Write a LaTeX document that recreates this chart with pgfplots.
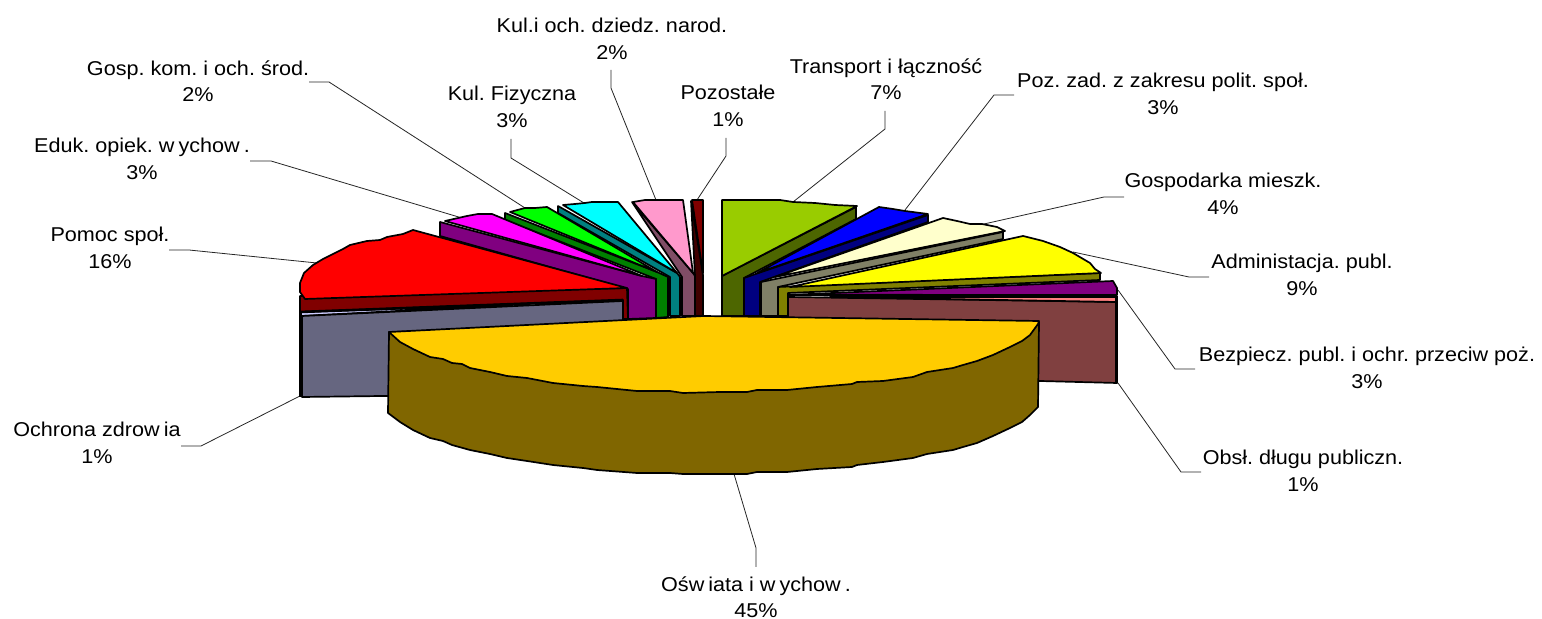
\documentclass[border=0pt]{standalone}
\usepackage{fontspec}
\setmainfont[FakeStretch=1.08]{Liberation Sans}
\usepackage{pgfplots}
\pgfplotsset{compat=1.18}
\definecolor{cDarkRed}{HTML}{800000}
\definecolor{cDarkRedW}{HTML}{400000}
\definecolor{cRed}{HTML}{FF0000}
\definecolor{cPink}{HTML}{FF99CC}
\definecolor{cPinkW}{HTML}{804D66}
\definecolor{cCyan}{HTML}{00FFFF}
\definecolor{cTeal}{HTML}{008080}
\definecolor{cGreen}{HTML}{00FF00}
\definecolor{cGreenW}{HTML}{008000}
\definecolor{cMagenta}{HTML}{FF00FF}
\definecolor{cPurple}{HTML}{800080}
\definecolor{cGrayW}{HTML}{666680}
\definecolor{cLav}{HTML}{CCCCFF}
\definecolor{cLime}{HTML}{99CC00}
\definecolor{cLimeW}{HTML}{4D6600}
\definecolor{cBlue}{HTML}{0000FF}
\definecolor{cNavy}{HTML}{000080}
\definecolor{cCream}{HTML}{FFFFCC}
\definecolor{cCreamW}{HTML}{808066}
\definecolor{cYellow}{HTML}{FFFF00}
\definecolor{cOlive}{HTML}{808000}
\definecolor{cSalmon}{HTML}{FF8080}
\definecolor{cBrown}{HTML}{804040}
\definecolor{cGold}{HTML}{FFCC00}
\definecolor{cGoldW}{HTML}{806600}
\frenchspacing
\tikzset{
  face/.style={draw=black, line width=0.85pt, line join=round},
  lead/.style={draw=black!85, line width=0.4pt},
  lab/.style={font=\fontsize{10}{13.25}\selectfont, align=center, inner sep=0pt, text=black},
}
\newcommand{\wk}{\kern2pt\relax}
\begin{document}
\begin{tikzpicture}
\useasboundingbox (0,0) rectangle (771pt,309.5pt);
\begin{axis}[
    width=771pt, height=309.5pt, scale only axis,
    xmin=0, xmax=1542, ymin=0, ymax=619, y dir=reverse,
    hide axis, clip=false,
]
% leader lines
\addplot[lead] coordinates {(309,82) (329,82) (525,208)};
\addplot[lead] coordinates {(250,161) (271,161) (462,218)};
\addplot[lead] coordinates {(169,250) (189,250) (317,263)};
\addplot[lead] coordinates {(511,139) (511,158) (584,203)};
\addplot[lead] coordinates {(611,70) (611,88) (656,200)};
\addplot[lead] coordinates {(726,138) (726,156) (697,200)};
\addplot[lead] coordinates {(885,111) (885,129) (793,202)};
\addplot[lead] coordinates {(1014,95) (994,95) (905,210)};
\addplot[lead] coordinates {(1124,197) (1104,197) (984,224)};
\addplot[lead] coordinates {(1209,277) (1189,277) (1073,252)};
\addplot[lead] coordinates {(1118,290) (1175,369) (1195,369)};
\addplot[lead] coordinates {(1118,383) (1181,472) (1201,472)};
\addplot[lead] coordinates {(181,446) (201,446) (300,396)};
\addplot[lead] coordinates {(734,474) (756,548) (756,567)};
% Pozostale
\addplot[face, fill=cDarkRedW] coordinates {(691,201) (703,275) (703,316) (695,316) (695,276)} --cycle;
\addplot[face, fill=cDarkRed] coordinates {(692,200) (703,200) (703,273)} --cycle;
% Kul.i och. dziedz. narod.
\addplot[face, fill=cPinkW] coordinates {(632,202) (693,273) (695,276) (695,316) (682,316) (682,277)} --cycle;
\addplot[face, fill=cPink] coordinates {(633,202) (645,200) (655,200) (683,200) (693,273)} --cycle;
% Kul. Fizyczna
\addplot[face, fill=cTeal] coordinates {(558,206) (677,273) (680,277) (680,316) (670,316) (670,277) (558,213)} --cycle;
\addplot[face, fill=cCyan] coordinates {(563,205) (575,204) (585,203) (592,202) (618,202) (677,273)} --cycle;
% Gosp. kom.
\addplot[face, fill=cGreenW] coordinates {(505,213) (657,272) (668,277) (668,317) (656,318) (656,279) (505,220)} --cycle;
\addplot[face, fill=cGreen] coordinates {(510,212) (525,208) (535,208) (547,207) (657,272)} --cycle;
% Eduk.
\addplot[face, fill=cPurple] coordinates {(440,222) (642,276) (656,279) (656,318) (628,319) (628,289) (440,236)} --cycle;
\addplot[face, fill=cMagenta] coordinates {(445,221) (467,216) (478,214) (492,214) (642,276)} --cycle;
% Pomoc spol.
\addplot[face, fill=cDarkRed] coordinates {(300,296) (627,288) (628,319) (623,319) (623,300) (300,312)} --cycle;
\addplot[face, fill=cRed] coordinates {(627,288) (305,299) (300,292) (300,283) (304,273) (313,265) (323,259) (343,249) (350,245) (367,241) (380,240) (387,237) (403,234) (413,230)} --cycle;
% Ochrona zdrowia
\addplot[face, fill=cLav] coordinates {(301,312) (513,305) (301,316)} --cycle;
\addplot[face, fill=cGrayW] coordinates {(302,316) (623,301) (623,320) (623,393) (302,397)} --cycle;
\addplot[draw=black, line width=1.3pt] coordinates {(300,312) (623,300)};
\addplot[draw=black, line width=1.5pt] coordinates {(300.5,312) (300.5,397)};
% Transport
\addplot[face, fill=cLimeW] coordinates {(856,207) (722,276) (722,316) (744,316) (744,278) (856,219)} --cycle;
\addplot[face, fill=cLime] coordinates {(722,200) (780,200) (793,202) (815,203) (835,205) (857,206) (722,276)} --cycle;
% Poz. zad.
\addplot[face, fill=cNavy] coordinates {(928,215) (928,222) (760,282) (760,316) (744,316) (744,278)} --cycle;
\addplot[face, fill=cBlue] coordinates {(757,273) (879,207) (893,209) (905,211) (928,214)} --cycle;
% Gospodarka mieszk.
\addplot[face, fill=cCreamW] coordinates {(1003,232) (1003,239) (778,287) (778,316) (761,316) (761,282)} --cycle;
\addplot[face, fill=cCream] coordinates {(775,277) (943,218) (957,221) (970,224) (982,224) (997,227) (1005,231)} --cycle;
% Administacja
\addplot[face, fill=cOlive] coordinates {(1100,273) (1100,280) (788,293) (788,316) (778,316) (778,287)} --cycle;
\addplot[face, fill=cYellow] coordinates {(790,287) (1023,236) (1043,241) (1060,247) (1073,253) (1090,263) (1095,269) (1101,273)} --cycle;
% Bezpiecz.
\addplot[face, fill=cPurple] coordinates {(833,293) (1113,281) (1117,288) (1117,295) (788,295)} --cycle;
% Obsl. dlugu
\addplot[face, fill=cBrown] coordinates {(788,297) (1117,302) (1117,383) (1040,381) (788,381)} --cycle;
\addplot[face, fill=cSalmon] coordinates {(830,297) (1117,297) (1117,302)} --cycle;
\addplot[draw=black, line width=1.2pt] coordinates {(788,295) (1117,295.5)};
\addplot[draw=black, line width=1.5pt] coordinates {(1116.5,296) (1116.5,383)};
% Oswiata
\addplot[face, fill=cGoldW] coordinates {(389,332) (388,413) (400,422) (413,430) (430,438) (443,441) (452,445) (470,450) (490,454) (507,458) (527,461) (553,465) (583,468) (597,470) (637,473) (670,473) (683,474) (720,474) (747,474) (757,472) (787,472) (817,469) (852,467) (857,465) (883,462) (913,458) (927,454) (953,450) (963,447) (977,443) (993,436) (1010,428) (1022,422) (1030,415) (1038,407) (1039,322)} --cycle;
\addplot[face, fill=cGold] coordinates {(389,332) (704,316) (1039,321) (1038,324) (1030,335) (1022,341) (1010,347) (993,355) (977,361) (963,365) (953,368) (927,372) (913,377) (883,381) (857,382) (852,384) (817,387) (787,390) (757,390) (747,392) (720,392) (683,393) (670,391) (637,391) (597,387) (583,386) (553,383) (527,378) (507,376) (490,372) (470,368) (462,364) (452,363) (443,359) (430,357) (413,349) (400,342)} --cycle;
% labels
\node[lab] at (axis cs:612,39) {Kul.i och. dziedz. narod.\\2\%};
\node[lab] at (axis cs:728,106) {Pozostałe\\1\%};
\node[lab] at (axis cs:886,79) {Transport i łączność\\7\%};
\node[lab] at (axis cs:1163,94) {Poz. zad. z zakresu polit. społ.\\3\%};
\node[lab] at (axis cs:1223,194) {Gospodarka mieszk.\\4\%};
\node[lab] at (axis cs:1302,275) {Administacja. publ.\\9\%};
\node[lab] at (axis cs:1367,368) {Bezpiecz. publ. i ochr. przeciw poż.\\3\%};
\node[lab] at (axis cs:1303,471) {Obsł. długu publiczn.\\1\%};
\node[lab] at (axis cs:756,597) {Ośw\wk iata i w\wk ychow\wk.\\45\%};
\node[lab] at (axis cs:97,443) {Ochrona zdrow\wk ia\\1\%};
\node[lab] at (axis cs:110,248) {Pomoc społ.\\16\%};
\node[lab] at (axis cs:142,159) {Eduk. opiek. w\wk ychow\wk.\\3\%};
\node[lab] at (axis cs:198,81) {Gosp. kom. i och. środ.\\2\%};
\node[lab] at (axis cs:512,107) {Kul. Fizyczna\\3\%};
\end{axis}
\end{tikzpicture}
\end{document}
